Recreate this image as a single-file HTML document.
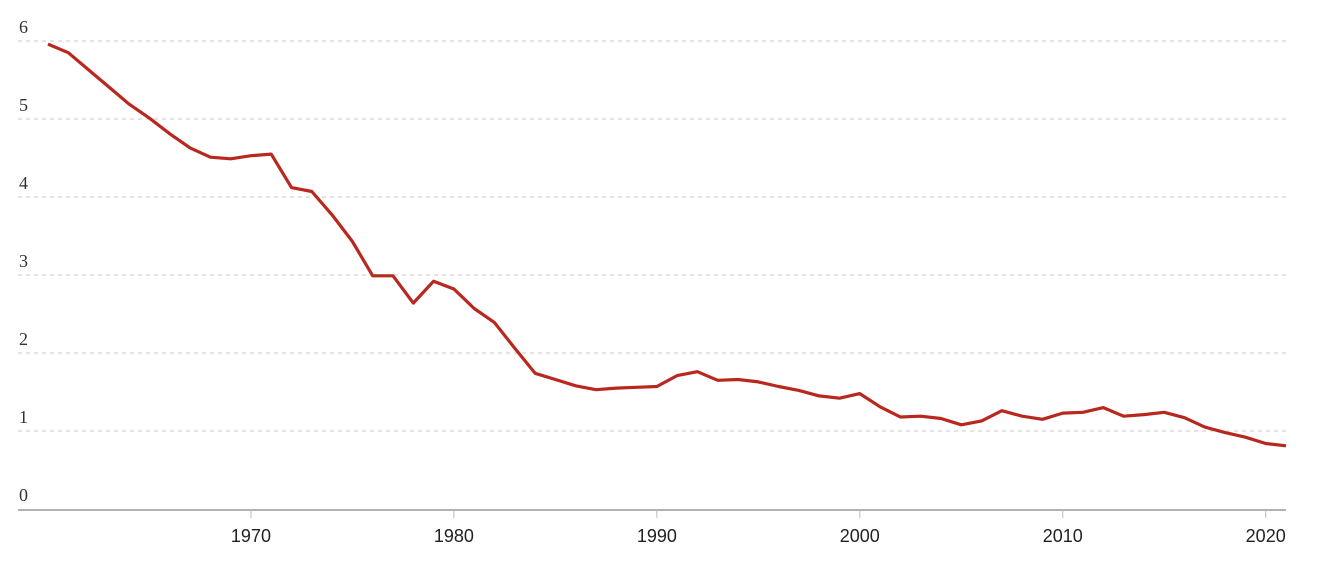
<!DOCTYPE html>
<html><head><meta charset="utf-8"><style>
html,body{margin:0;padding:0;background:#fff;width:1320px;height:584px;overflow:hidden}
</style></head><body>
<svg id="chart" width="1320" height="584" xmlns="http://www.w3.org/2000/svg">
<g id="grid"></g>
<g id="yaxis"></g>
<g id="xaxis"></g>
<g id="series"></g>
</svg>
<script>
const years = [];
for (let y = 1960; y <= 2021; y++) years.push(y);
const values = [5.96,5.85,5.63,5.41,5.19,5.01,4.81,4.63,4.51,4.49,4.53,4.55,4.12,4.07,3.77,3.43,2.99,2.99,2.64,2.92,2.82,2.57,2.39,2.06,1.74,1.66,1.58,1.53,1.55,1.56,1.57,1.71,1.76,1.65,1.66,1.63,1.57,1.52,1.45,1.42,1.48,1.31,1.18,1.19,1.16,1.08,1.13,1.26,1.19,1.15,1.23,1.24,1.30,1.19,1.21,1.24,1.17,1.05,0.98,0.92,0.84,0.81];
const yTicks = [0,1,2,3,4,5,6];
const xTicks = [1970,1980,1990,2000,2010,2020];

const NS = 'http://www.w3.org/2000/svg';
const x = yr => 48 + (yr - 1960) * (1286 - 48) / 61;
const y = v => 509 - v * 78;
function mk(tag, attrs, parent){const e=document.createElementNS(NS,tag);for(const k in attrs)e.setAttribute(k,attrs[k]);parent.appendChild(e);return e;}
const grid=document.getElementById('grid'),ya=document.getElementById('yaxis'),xa=document.getElementById('xaxis'),se=document.getElementById('series');

yTicks.forEach(t=>{
  if(t>0){
    const l=mk('line',{x1:18,x2:1286,y1:y(t),y2:y(t),stroke:'#dcdcdc','stroke-width':1.5,'stroke-dasharray':'4,4'},grid);
    
    
  }
  const tx=mk('text',{x:19,y:y(t)-8,'font-family':'Liberation Serif, serif','font-size':18,fill:'#333'},ya);
  tx.textContent=t;
  
  
});
const base=mk('line',{x1:18,x2:1286,y1:510,y2:510,stroke:'#999','stroke-width':1.5},xa);


xTicks.forEach(t=>{
  const tk=mk('line',{x1:x(t),x2:x(t),y1:510,y2:518,stroke:'#bbb','stroke-width':1},xa);
  
  
  const tx=mk('text',{x:x(t),y:542,'text-anchor':'middle','font-family':'Liberation Sans, sans-serif','font-size':18,fill:'#222'},xa);
  tx.textContent=t;
  
  
});
const d=values.map((v,i)=>(i?'L':'M')+x(years[i]).toFixed(1)+','+y(v).toFixed(1)).join('');
const p=mk('path',{d:d,fill:'none',stroke:'#b8281e','stroke-width':3.2,'stroke-linejoin':'round'},se);


</script>
</body></html>
